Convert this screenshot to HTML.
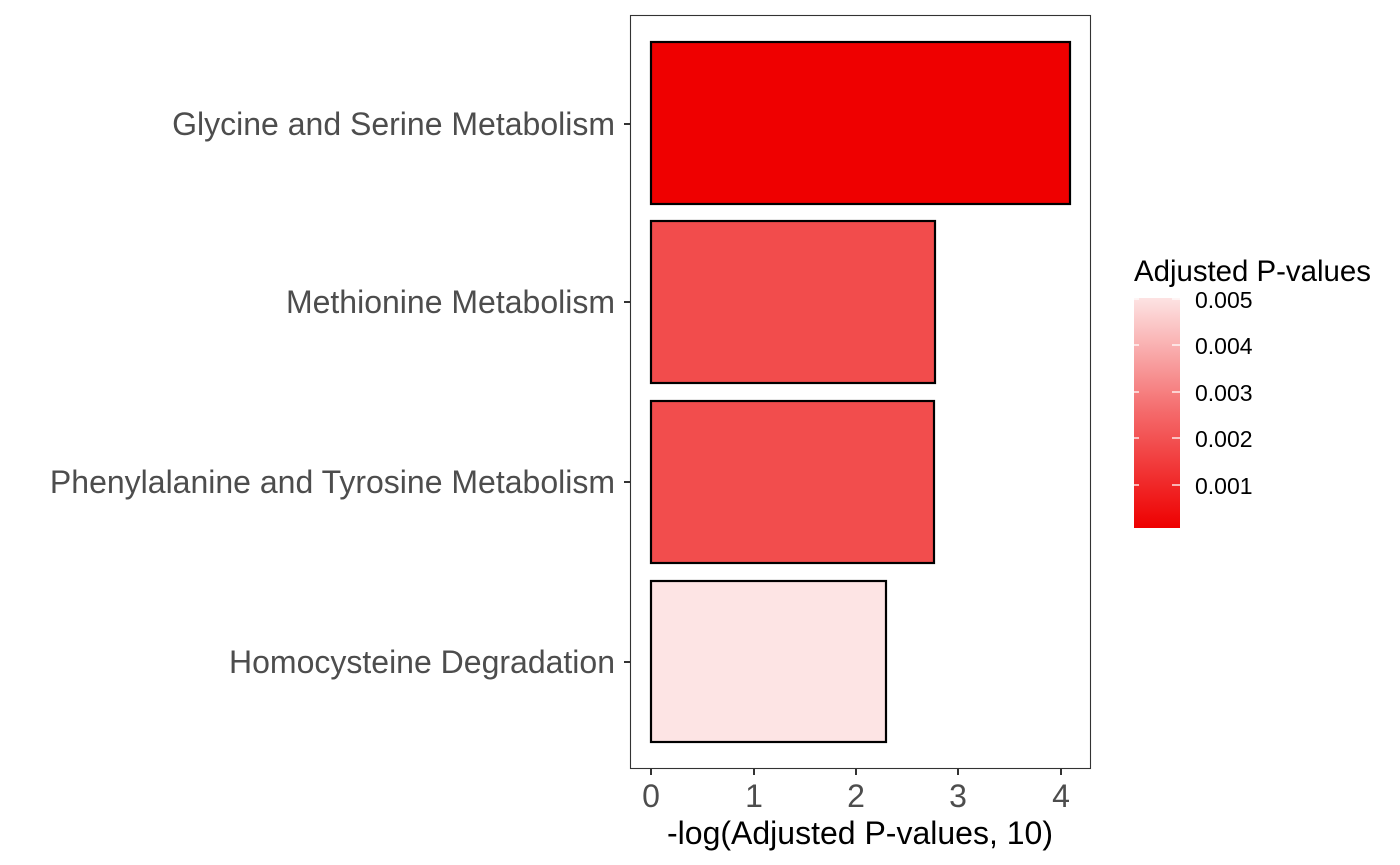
<!DOCTYPE html>
<html><head><style>body{margin:0;background:#fff}svg{display:block}</style></head><body>
<svg width="1400" height="865" xmlns="http://www.w3.org/2000/svg" font-family="Liberation Sans, sans-serif">
<defs><linearGradient id="g" x1="0" y1="1" x2="0" y2="0">
<stop offset="0" stop-color="#ee0000"/><stop offset="0.5" stop-color="#f4696a"/><stop offset="1" stop-color="#fde3e3"/></linearGradient></defs>
<rect x="630.5" y="15.5" width="460" height="753" fill="#fff" stroke="#333" stroke-width="1.1"/>
<g stroke="#000" stroke-width="2.2">
<rect x="651" y="42" width="419" height="162" fill="#ef0000"/>
<rect x="651" y="221" width="284" height="162" fill="#f24c4c"/>
<rect x="651" y="401" width="283" height="162" fill="#f24d4d"/>
<rect x="651" y="581" width="235" height="161" fill="#fde4e4"/>
</g>
<g stroke="#333" stroke-width="2">
<line x1="624" y1="124" x2="630" y2="124"/><line x1="624" y1="302" x2="630" y2="302"/>
<line x1="624" y1="482" x2="630" y2="482"/><line x1="624" y1="662" x2="630" y2="662"/>
<line x1="651" y1="769" x2="651" y2="775"/><line x1="754" y1="769" x2="754" y2="775"/>
<line x1="856" y1="769" x2="856" y2="775"/><line x1="958" y1="769" x2="958" y2="775"/>
<line x1="1061" y1="769" x2="1061" y2="775"/>
</g>
<g fill="#4d4d4d" font-size="32" text-anchor="end">
<text x="615" y="135">Glycine and Serine Metabolism</text>
<text x="615" y="313">Methionine Metabolism</text>
<text x="615" y="493">Phenylalanine and Tyrosine Metabolism</text>
<text x="615" y="673">Homocysteine Degradation</text>
</g>
<g fill="#4d4d4d" font-size="32" text-anchor="middle">
<text x="651" y="807">0</text><text x="754" y="807">1</text><text x="856" y="807">2</text><text x="958" y="807">3</text><text x="1061" y="807">4</text>
</g>
<text x="860" y="844" font-size="32" text-anchor="middle" fill="#000">-log(Adjusted P-values, 10)</text>
<text x="1134" y="281" font-size="29.4" fill="#000">Adjusted P-values</text>
<rect x="1134" y="298" width="46" height="230" fill="url(#g)"/>
<g stroke="#fff" stroke-width="1.3">
<line x1="1134" y1="299" x2="1139" y2="299"/><line x1="1172" y1="299" x2="1180" y2="299"/>
<line x1="1134" y1="345" x2="1139" y2="345"/><line x1="1172" y1="345" x2="1180" y2="345"/>
<line x1="1134" y1="392" x2="1139" y2="392"/><line x1="1172" y1="392" x2="1180" y2="392"/>
<line x1="1134" y1="438" x2="1139" y2="438"/><line x1="1172" y1="438" x2="1180" y2="438"/>
<line x1="1134" y1="485" x2="1139" y2="485"/><line x1="1172" y1="485" x2="1180" y2="485"/>
</g>
<g font-size="23" fill="#000">
<text x="1195" y="308">0.005</text><text x="1195" y="354">0.004</text><text x="1195" y="401">0.003</text><text x="1195" y="447">0.002</text><text x="1195" y="494">0.001</text>
</g>
</svg>
</body></html>
